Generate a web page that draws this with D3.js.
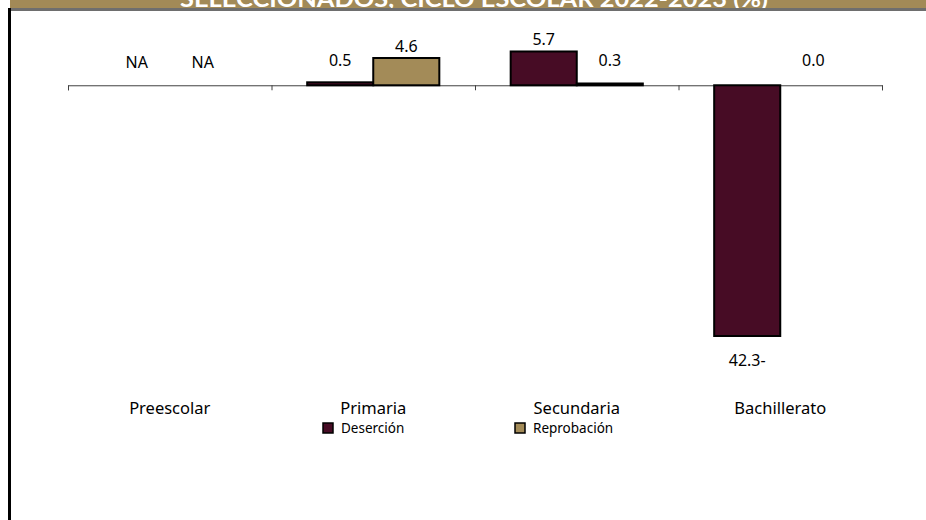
<!DOCTYPE html>
<html>
<head>
<meta charset="utf-8">
<script src="https://cdn.jsdelivr.net/npm/d3@7"></script>
<style>
  body { margin: 0; background: #fff; }
  svg { display: block; font-family: "Noto Sans", "Open Sans", sans-serif; }
</style>
</head>
<body>
<div id="chart"></div>
<script>
var categories = ["Preescolar", "Primaria", "Secundaria", "Bachillerato"];
var seriesNames = ["Deserción", "Reprobación"];
var desercion = [null, 0.5, 5.7, -42.3];
var reprobacion = [null, 4.6, 0.3, 0.0];
var title = "SELECCIONADOS, CICLO ESCOLAR 2022-2023 (%)";

var W = 926, H = 520;
var colors = {"Deserción": "#470c25", "Reprobación": "#a38b58"};

var svg = d3.select("#chart").append("svg")
    .attr("width", W)
    .attr("height", H);

// header strip (title is cropped by the top edge, as in the source image)
svg.append("rect").attr("x", 10).attr("y", 0).attr("width", W - 10).attr("height", 8).attr("fill", "#a28a57");
svg.append("text")
    .attr("x", 474).attr("y", 7)
    .attr("text-anchor", "middle")
    .attr("fill", "#fff")
    .attr("font-family", "Lato, sans-serif")
    .attr("font-weight", "bold")
    .attr("font-size", 23)
    .attr("textLength", 588)
    .attr("lengthAdjust", "spacingAndGlyphs")
    .text(title);
svg.append("rect").attr("x", 8).attr("y", 8).attr("width", W - 8).attr("height", 3).attr("fill", "#6e6e6e");
svg.append("rect").attr("x", 8).attr("y", 8).attr("width", 3).attr("height", H - 8).attr("fill", "#000");

var data = categories.map(function(c, i) {
  return {cat: c, values: [
    {key: seriesNames[0], value: desercion[i]},
    {key: seriesNames[1], value: reprobacion[i]}
  ]};
});

var x0 = d3.scaleBand().domain(categories).range([68, 882]).padding(0);
var x1 = d3.scaleBand().domain(seriesNames).range([0, x0.bandwidth()]).paddingInner(0).paddingOuter(0.54);
var y = d3.scaleLinear().domain([-45, 10]).range([352, 26]);

// axis with ticks at category boundaries
var xi = d3.scaleLinear().domain([0, categories.length]).range([68, 882]);
svg.append("g")
    .attr("transform", "translate(0," + y(0) + ")")
    .call(d3.axisBottom(xi).ticks(categories.length).tickFormat("").tickSizeOuter(0).tickSize(5))
    .call(function(g) { g.selectAll("path, line").attr("stroke", "#404040"); });

var groups = svg.append("g").selectAll("g")
    .data(data)
    .enter().append("g")
      .attr("transform", function(d) { return "translate(" + x0(d.cat) + ",0)"; });

groups.selectAll("rect")
    .data(function(d) { return d.values.filter(function(v) { return v.value !== null; }); })
    .enter().append("rect")
      .attr("x", function(d) { return x1(d.key); })
      .attr("y", function(d) { return y(Math.max(0, d.value)); })
      .attr("width", x1.bandwidth())
      .attr("height", function(d) { return Math.abs(y(d.value) - y(0)); })
      .attr("fill", function(d) { return colors[d.key]; })
      .attr("stroke", "#000")
      .attr("stroke-width", 2);

groups.selectAll("text.val")
    .data(function(d) { return d.values; })
    .enter().append("text")
      .attr("class", "val")
      .attr("x", function(d) { return x1(d.key) + x1.bandwidth() / 2; })
      .attr("y", function(d) {
        if (d.value === null) return 62;
        if (d.value < 0) return y(d.value) + 24;
        return Math.min(y(d.value) - 12, 60);
      })
      .attr("dy", "0.35em")
      .attr("text-anchor", "middle")
      .attr("font-size", 16)
      .attr("fill", "#000")
      .text(function(d) {
        if (d.value === null) return "NA";
        if (d.value < 0) return Math.abs(d.value).toFixed(1) + "-";
        return d.value.toFixed(1);
      });

svg.append("g").selectAll("text")
    .data(categories)
    .enter().append("text")
      .attr("x", function(d) { return x0(d) + x0.bandwidth() / 2; })
      .attr("y", 408)
      .attr("dy", "0.35em")
      .attr("text-anchor", "middle")
      .attr("font-size", 16.5)
      .attr("fill", "#000")
      .text(function(d) { return d; });

var legend = svg.append("g").selectAll("g")
    .data(seriesNames)
    .enter().append("g")
      .attr("transform", function(d, i) { return "translate(" + (323 + i * 192) + ",428)"; });

legend.append("rect")
    .attr("x", 0).attr("y", -5)
    .attr("width", 10).attr("height", 10)
    .attr("fill", function(d) { return colors[d]; })
    .attr("stroke", "#000")
    .attr("stroke-width", 1.5);

legend.append("text")
    .attr("x", 18)
    .attr("dy", "0.35em")
    .attr("font-size", 13.5)
    .attr("fill", "#000")
    .text(function(d) { return d; });
</script>
</body>
</html>
